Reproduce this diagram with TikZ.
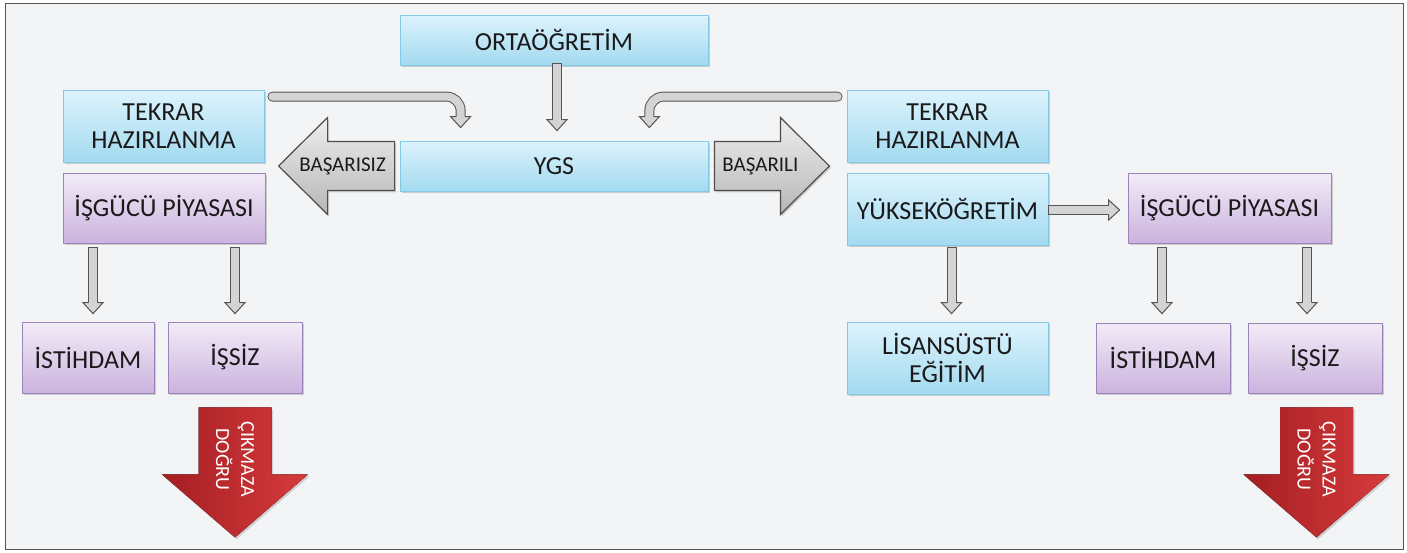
\documentclass[tikz,border=0pt]{standalone}
\usepackage{fontspec}
\setmainfont{Carlito}
\usetikzlibrary{shadows,calc}
\definecolor{bgc}{HTML}{F3F4F6}
\definecolor{framec}{HTML}{555555}
\definecolor{bluetop}{HTML}{DDF3FC}
\definecolor{bluebot}{HTML}{A3DAF0}
\definecolor{blueborder}{HTML}{84C9E6}
\definecolor{purtop}{HTML}{F2EBF7}
\definecolor{purbot}{HTML}{CBB3DE}
\definecolor{purborder}{HTML}{9A84BA}
\definecolor{bgtop}{HTML}{EEEEEE}
\definecolor{bgbot}{HTML}{B6B6B6}
\definecolor{bgline}{HTML}{4D4D4D}
\definecolor{gfill}{HTML}{D4D4D4}
\definecolor{gline}{HTML}{555555}
\definecolor{redl}{HTML}{A41E22}
\definecolor{redr}{HTML}{D63B3C}
\definecolor{textc}{HTML}{1A1A1A}
\newcommand\boxfont{\fontsize{26}{28}\selectfont}
\newcommand\lblfont{\fontsize{21}{24}\selectfont}
\newcommand\redfont{\fontsize{20}{25}\selectfont}
% small gray block arrows
\newcommand\headdown[1]{%
 \fill[gfill] let \p1=(#1) in (\x1-10pt,\y1+11pt) -- (\x1,\y1) -- (\x1+10pt,\y1+11pt) -- cycle;
 \draw[gline, line width=1pt, line join=miter] let \p1=(#1) in (\x1-4.5pt,\y1+11pt) -- (\x1-10pt,\y1+11pt) -- (\x1,\y1) -- (\x1+10pt,\y1+11pt) -- (\x1+4.5pt,\y1+11pt);}
\newcommand\headright[1]{%
 \fill[gfill] let \p1=(#1) in (\x1-11pt,\y1+10pt) -- (\x1,\y1) -- (\x1-11pt,\y1-10pt) -- cycle;
 \draw[gline, line width=1pt, line join=miter] let \p1=(#1) in (\x1-11pt,\y1+4.5pt) -- (\x1-11pt,\y1+10pt) -- (\x1,\y1) -- (\x1-11pt,\y1-10pt) -- (\x1-11pt,\y1-4.5pt);}
\newcommand\varrow[2]{%
 \draw[shaft] let \p1=(#1), \p2=(#2) in (\p1) -- (\x1,\y2+11pt);
 \headdown{#2}}
\begin{document}
\begin{tikzpicture}[x=1pt,y=-1pt,
  box/.style={line width=0.8pt, inner sep=0pt, align=center, font=\boxfont, text=textc,
    drop shadow={shadow xshift=1.6pt, shadow yshift=-1.8pt, opacity=0.35}},
  bluebox/.style={box, draw=blueborder, top color=bluetop, bottom color=bluebot},
  purbox/.style={box, draw=purborder, top color=purtop, bottom color=purbot},
  shaft/.style={draw=gline, line width=1pt, double=gfill, double distance=8pt, line cap=rect},
  bigarrow/.style={draw=bgline, line width=1.2pt, top color=bgtop, bottom color=bgbot, line join=miter,
    drop shadow={shadow xshift=1.6pt, shadow yshift=-1.8pt, opacity=0.3}},
  redarrow/.style={left color=redl, right color=redr,
    drop shadow={shadow xshift=1.5pt, shadow yshift=-2pt, opacity=0.3}},
  lbl/.style={font=\lblfont, text=textc, inner sep=0pt},
  redlbl/.style={font=\redfont, text=white, align=center, rotate=-90, inner sep=0pt}]
\useasboundingbox (0,0) rectangle (1407,552);
\fill[white] (0,0) rectangle (1407,552);
\filldraw[fill=bgc, draw=framec, line width=1.5pt] (5.5,3.5) rectangle (1403.5,549.5);

% boxes
\node[bluebox, minimum width=308pt, minimum height=50pt] (orta) at (554,40) {ORTAÖĞRETİM};
\node[bluebox, minimum width=308pt, minimum height=50pt] (ygs) at (554,166) {YGS};
\node[bluebox, minimum width=201pt, minimum height=72pt] (tekL) at (163.5,126) {TEKRAR\\HAZIRLANMA};
\node[purbox, minimum width=202pt, minimum height=70pt] (isgL) at (164,208) {İŞGÜCÜ PİYASASI};
\node[bluebox, minimum width=201pt, minimum height=72pt] (tekR) at (947.5,126) {TEKRAR\\HAZIRLANMA};
\node[bluebox, minimum width=201pt, minimum height=72pt] (yuk) at (947.5,209) {YÜKSEKÖĞRETİM};
\node[purbox, minimum width=203pt, minimum height=70pt] (isgR) at (1229.5,208) {İŞGÜCÜ PİYASASI};
\node[purbox, minimum width=132pt, minimum height=71pt] (istL) at (88,357.5) {İSTİHDAM};
\node[purbox, minimum width=134pt, minimum height=71pt] (issL) at (235,357.5) {İŞSİZ};
\node[bluebox, minimum width=201pt, minimum height=72pt] (lis) at (947.5,358) {LİSANSÜSTÜ\\EĞİTİM};
\node[purbox, minimum width=134pt, minimum height=70pt] (istR) at (1163,358) {İSTİHDAM};
\node[purbox, minimum width=134pt, minimum height=70pt] (issR) at (1315,358) {İŞSİZ};

% big gray arrows
\filldraw[bigarrow] let \p1=(ygs.west) in
  (\x1-5pt,\y1+24.5pt) -- (\x1-72pt,\y1+24.5pt) -- (\x1-72pt,\y1+48.5pt) -- (\x1-121pt,\y1)
  -- (\x1-72pt,\y1-48.5pt) -- (\x1-72pt,\y1-24.5pt) -- (\x1-5pt,\y1-24.5pt) -- cycle;
\node[lbl] (basz) at ($(ygs.west)+(-57,0)$) {BAŞARISIZ};
\filldraw[bigarrow] let \p1=(ygs.east) in
  (\x1+6pt,\y1+24.5pt) -- (\x1+72pt,\y1+24.5pt) -- (\x1+72pt,\y1+48.5pt) -- (\x1+121pt,\y1)
  -- (\x1+72pt,\y1-48.5pt) -- (\x1+72pt,\y1-24.5pt) -- (\x1+6pt,\y1-24.5pt) -- cycle;
\node[lbl] (basl) at ($(ygs.east)+(52,0)$) {BAŞARILI};

% top arrows
\coordinate (tipL) at ($(ygs.north west)+(61,-13)$);
\coordinate (tipR) at ($(ygs.north east)+(-59,-13)$);
\coordinate (tipO) at ($(ygs.north)+(3,-10)$);
\draw[shaft, line cap=round, rounded corners=14pt] ($(tekL.north east)+(8,7)$) -- ($(tipL)+(0,-31)$) -- ($(tipL)+(0,-11)$);
\headdown{tipL}
\draw[shaft, line cap=round, rounded corners=14pt] ($(tekR.north west)+(-9,7)$) -- ($(tipR)+(0,-31)$) -- ($(tipR)+(0,-11)$);
\headdown{tipR}
\varrow{$(orta.south)+(3,3)$}{tipO}

% right horizontal arrow
\coordinate (tipH) at ($(isgR.west)+(-8,2)$);
\draw[shaft] ($(yuk.east)+(5,1)$) -- ($(tipH)+(-11,0)$);
\headright{tipH}

% vertical arrows
\varrow{$(isgL.south)+(-71,9)$}{$(istL.north)+(5,-8)$}
\varrow{$(isgL.south)+(71,9)$}{$(issL.north)+(0,-8)$}
\varrow{$(yuk.south)+(4,7)$}{$(lis.north)+(4,-8)$}
\varrow{$(isgR.south)+(-67.5,9)$}{$(istR.north)+(-1,-9)$}
\varrow{$(isgR.south)+(77.5,9)$}{$(issR.north)+(-8,-9)$}

% red arrows
\fill[redarrow] let \p1=(issL.south) in
  (\x1-36.5pt,\y1-14pt) -- (\x1+36.5pt,\y1-14pt) -- (\x1+36.5pt,\y1-81pt) -- (\x1+73pt,\y1-81pt)
  -- (\x1,\y1-144pt) -- (\x1-73pt,\y1-81pt) -- (\x1-36.5pt,\y1-81pt) -- cycle;
\node[redlbl] (cikL) at ($(issL.south)+(0,66)$) {ÇIKMAZA\\DOĞRU};
\fill[redarrow] let \p1=(issR.south) in
  (\x1-35pt,\y1-14pt) -- (\x1+38pt,\y1-14pt) -- (\x1+38pt,\y1-81pt) -- (\x1+74.5pt,\y1-81pt)
  -- (\x1+1.5pt,\y1-144pt) -- (\x1-71.5pt,\y1-81pt) -- (\x1-35pt,\y1-81pt) -- cycle;
\node[redlbl] (cikR) at ($(issR.south)+(1.5,66)$) {ÇIKMAZA\\DOĞRU};
\end{tikzpicture}
\end{document}
